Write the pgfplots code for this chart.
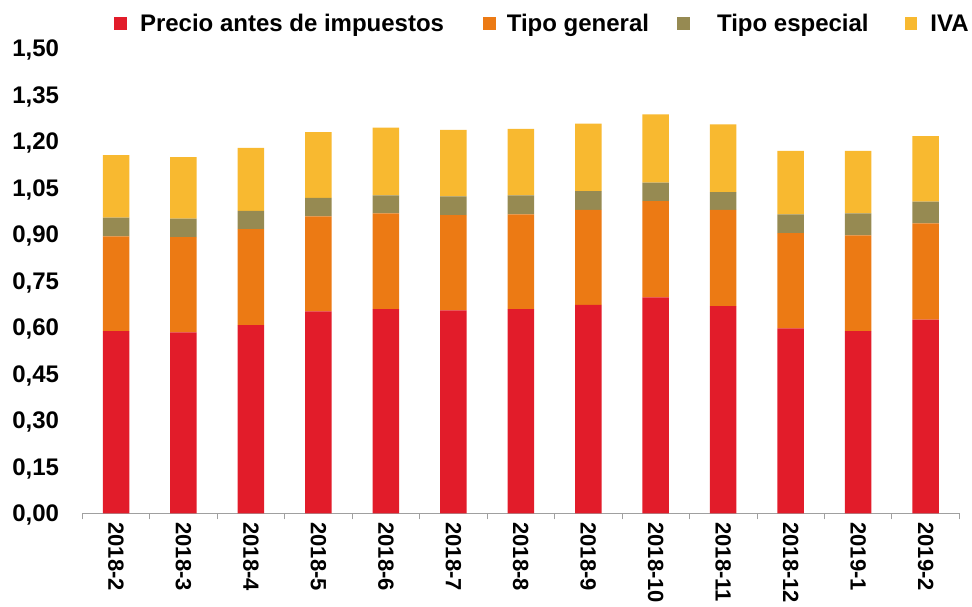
\documentclass[border=0pt]{standalone}
\usepackage{pgfplots}
\usepackage{pgfplotstable}
\pgfplotsset{compat=1.18}
\usepackage{fontspec}
\setmainfont{Liberation Sans}
\definecolor{cPrecio}{RGB}{226,28,42}
\definecolor{cGeneral}{RGB}{236,122,20}
\definecolor{cEspecial}{RGB}{150,138,82}
\definecolor{cIVA}{RGB}{248,185,48}
\definecolor{axgray}{RGB}{160,160,160}

\pgfplotstableread{
x precio general especial iva
0  0.587 0.306 0.060 0.202
1  0.583 0.307 0.060 0.198
2  0.607 0.309 0.059 0.203
3  0.651 0.306 0.060 0.212
4  0.658 0.309 0.058 0.218
5  0.654 0.307 0.061 0.214
6  0.658 0.306 0.061 0.214
7  0.672 0.306 0.061 0.217
8  0.696 0.310 0.060 0.220
9  0.668 0.310 0.057 0.219
10 0.596 0.307 0.061 0.204
11 0.587 0.309 0.071 0.201
12 0.624 0.311 0.070 0.211
}\datatable

\begin{document}
\begin{tikzpicture}
\begin{axis}[
  scale only axis, width=877pt, height=465.3pt,
  at={(0pt,0pt)}, anchor=south west,
  ybar stacked, bar width=26.5pt,
  xmin=-0.5, xmax=12.5, ymin=0, ymax=1.5,
  axis x line*=bottom, axis y line*=left,
  axis line style={-},
  x axis line style={draw=axgray, line width=0.8pt},
  y axis line style={draw=none},
  xtick={0,...,12},
  xticklabels={2018-2,2018-3,2018-4,2018-5,2018-6,2018-7,2018-8,2018-9,2018-10,2018-11,2018-12,2019-1,2019-2},
  major tick length=0pt,
  minor xtick={-0.5,0.5,...,12.5},
  minor tick length=6pt, tick align=outside,
  minor tick style={draw=axgray, line width=0.8pt},
  ytick={0,0.15,0.30,0.45,0.60,0.75,0.90,1.05,1.20,1.35,1.50},
  ytick style={draw=none},
  tick label style={font=\fontsize{24}{28}\selectfont\bfseries},
  /pgf/number format/.cd, fixed, fixed zerofill, precision=2, use comma, assume math mode=true,
  /pgfplots/.cd,
  yticklabel style={anchor=base east, inner sep=0pt, xshift=-23pt, yshift=-8.6pt},
  xticklabel style={rotate=-90, anchor=west, inner sep=0pt, font=\fontsize{22}{26}\selectfont\bfseries},
  xticklabel shift=9pt,
  legend columns=4,
  legend image code/.code={\fill[#1,draw=none] (0pt,-6.35pt) rectangle (12.7pt,6.35pt);},
  legend style={draw=none, fill=none, at={(0.0365,1.0531)}, anchor=west,
    inner sep=0pt, outer sep=0pt,
    font=\fontsize{24}{28}\selectfont\bfseries,
    nodes={inner sep=0pt, text height=17.2pt, text depth=0pt},
    /tikz/column 1/.style={column sep=13pt},
    /tikz/column 2/.style={column sep=39pt},
    /tikz/column 3/.style={column sep=11pt},
    /tikz/column 4/.style={column sep=28.3pt},
    /tikz/column 5/.style={column sep=27pt},
    /tikz/column 6/.style={column sep=36pt},
    /tikz/column 7/.style={column sep=13pt}},
]
\addplot[fill=cPrecio, draw=none] table[x=x, y=precio]{\datatable};
\addplot[fill=cGeneral, draw=none] table[x=x, y=general]{\datatable};
\addplot[fill=cEspecial, draw=none] table[x=x, y=especial]{\datatable};
\addplot[fill=cIVA, draw=none] table[x=x, y=iva]{\datatable};
\legend{Precio antes de impuestos, Tipo general, Tipo especial, IVA}
\end{axis}
\pgfresetboundingbox
\path[use as bounding box] (-82.3pt,-92.7pt) rectangle (889.7pt,513.3pt);
\end{tikzpicture}
\end{document}
